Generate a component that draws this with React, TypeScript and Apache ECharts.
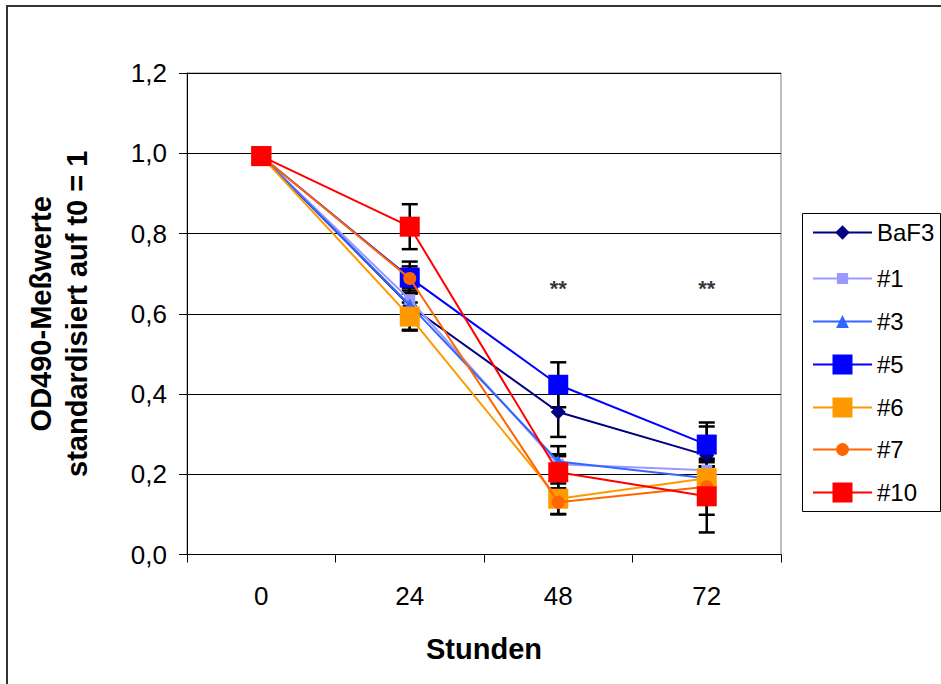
import React, { useEffect, useRef } from "react";
import * as echarts from "echarts";

const categories = ["0", "24", "48", "72"];
const yTicks = [0, 0.2, 0.4, 0.6, 0.8, 1.0, 1.2];

const seriesNames = ["BaF3", "#1", "#3", "#5", "#6", "#7", "#10"];
const baf3 = [0.993, 0.62, 0.355, 0.247];
const s1 = [0.993, 0.635, 0.225, 0.21];
const s3 = [0.993, 0.622, 0.232, 0.19];
const s5 = [0.993, 0.69, 0.423, 0.274];
const s6 = [0.993, 0.593, 0.139, 0.19];
const s7 = [0.993, 0.688, 0.13, 0.169];
const s10 = [0.993, 0.817, 0.205, 0.145];

const errBaf3 = [0, 0.06, 0.062, 0.072];
const err1 = [0, 0.03, 0.025, 0.02];
const err3 = [0, 0.03, 0.038, 0.03];
const err5 = [0, 0.04, 0.056, 0.055];
const err6 = [0, 0.035, 0.038, 0.03];
const err7 = [0, 0.03, 0.03, 0.07];
const err10 = [0, 0.056, 0.04, 0.09];

const sigCategories = ["48", "72"];
const sigValues = [0.664, 0.664];
const sigLabel = "**";

const FONT = "'Liberation Sans', Arial, sans-serif";

export default function App() {
  const ref = useRef<HTMLDivElement>(null);

  useEffect(() => {
    if (!ref.current) return;
    const chart = echarts.init(ref.current, null, { renderer: "svg" });

    const values = [baf3, s1, s3, s5, s6, s7, s10];
    const errors = [errBaf3, err1, err3, err5, err6, err7, err10];
    const colors = ["#000080", "#9999FF", "#3366FF", "#0000FF", "#FF9900", "#FF6600", "#FF0000"];
    const symbols = ["diamond", "rect", "triangle", "rect", "rect", "circle", "rect"];
    const sizes = [15, 11, 13, 20, 20, 13, 20];
    const legendH = [18, 14, 16, 25, 25, 16, 25];
    const legendCY = [233, 279, 322, 365, 408, 450, 493];

    const errData: number[][] = [];
    values.forEach((arr, si) => {
      arr.forEach((v, ci) => {
        const e = errors[si][ci];
        if (e > 0) errData.push([ci, v - e, v + e]);
      });
    });

    const lineSeries = seriesNames.map((name, i) => ({
      name,
      type: "line",
      data: values[i],
      symbol: symbols[i],
      symbolSize: sizes[i],
      showAllSymbol: true,
      z: 3 + i,
      lineStyle: { color: colors[i], width: 2 },
      itemStyle: { color: colors[i], opacity: 1 },
      emphasis: { disabled: true },
    }));

    const legends = seriesNames.map((name, i) => ({
      data: [name],
      left: 807,
      top: legendCY[i] - Math.max(legendH[i], 25) / 2 - 5,
      itemWidth: 59,
      itemHeight: legendH[i],
      selectedMode: false,
      textStyle: { fontFamily: FONT, fontSize: 24, color: "#000" },
    }));

    chart.setOption({
      animation: false,
      backgroundColor: "#fff",
      legend: legends,
      grid: { left: 187, top: 73, width: 594, height: 481.5, show: true, borderColor: "#808080", borderWidth: 1 },
      xAxis: {
        type: "category",
        data: categories,
        boundaryGap: true,
        name: "Stunden",
        nameLocation: "middle",
        nameGap: 80,
        nameTextStyle: { fontFamily: FONT, fontSize: 29, fontWeight: "bold", color: "#000" },
        axisLine: { lineStyle: { color: "#000", width: 1 } },
        axisTick: { show: true, length: 8, lineStyle: { color: "#000" } },
        axisLabel: { fontFamily: FONT, fontSize: 26, color: "#000", margin: 28 },
      },
      yAxis: {
        type: "value",
        min: 0,
        max: 1.2,
        interval: 0.2,
        name: "OD490-Meßwerte\nstandardisiert auf t0 = 1",
        nameLocation: "middle",
        nameGap: 92,
        nameTextStyle: { fontFamily: FONT, fontSize: 29, fontWeight: "bold", color: "#000", lineHeight: 36 },
        axisLine: { show: true, lineStyle: { color: "#000", width: 1 } },
        axisTick: { show: true, length: 8, lineStyle: { color: "#000" } },
        splitLine: { show: true, lineStyle: { color: "#000", width: 1 } },
        axisLabel: {
          fontFamily: FONT,
          fontSize: 26,
          color: "#000",
          margin: 20,
          formatter: (v: number) => {
            const t = yTicks.find((x) => Math.abs(x - v) < 1e-6);
            return (t !== undefined ? t : v).toFixed(1).replace(".", ",");
          },
        },
      },
      series: [
        {
          type: "custom",
          z: 1,
          silent: true,
          data: errData,
          renderItem: (params: any, api: any) => {
            const ci = api.value(0);
            const lo = api.coord([ci, api.value(1)]);
            const hi = api.coord([ci, api.value(2)]);
            const x = lo[0];
            const hw = 8;
            const st = { stroke: "#000", lineWidth: 2.5 };
            return {
              type: "group",
              children: [
                { type: "line", shape: { x1: x, y1: lo[1], x2: x, y2: hi[1] }, style: st },
                { type: "line", shape: { x1: x - hw, y1: lo[1], x2: x + hw, y2: lo[1] }, style: st },
                { type: "line", shape: { x1: x - hw, y1: hi[1], x2: x + hw, y2: hi[1] }, style: st },
              ],
            };
          },
        },
        ...lineSeries,
        {
          type: "scatter",
          silent: true,
          z: 20,
          symbolSize: 1,
          itemStyle: { color: "transparent" },
          data: sigCategories.map((c, i) => [c, sigValues[i]]),
          label: {
            show: true,
            position: "inside",
            formatter: sigLabel,
            fontFamily: FONT,
            fontSize: 22,
            fontWeight: "bold",
            color: "#000",
          },
        },
      ],
      graphic: [
        {
          type: "rect",
          shape: { x: 7, y: 6, width: 1000, height: 800 },
          style: { fill: "none", stroke: "#333", lineWidth: 2 },
          silent: true,
          z: 0,
        },
        {
          type: "rect",
          shape: { x: 802.5, y: 213.5, width: 138, height: 298 },
          style: { fill: "#fff", stroke: "#000", lineWidth: 1 },
          silent: true,
          z: -1,
        },
      ],
    });

    return () => chart.dispose();
  }, []);

  return (
    <div
      ref={ref}
      style={{ position: "fixed", left: 0, top: 0, width: 941, height: 684, background: "#fff" }}
    />
  );
}
